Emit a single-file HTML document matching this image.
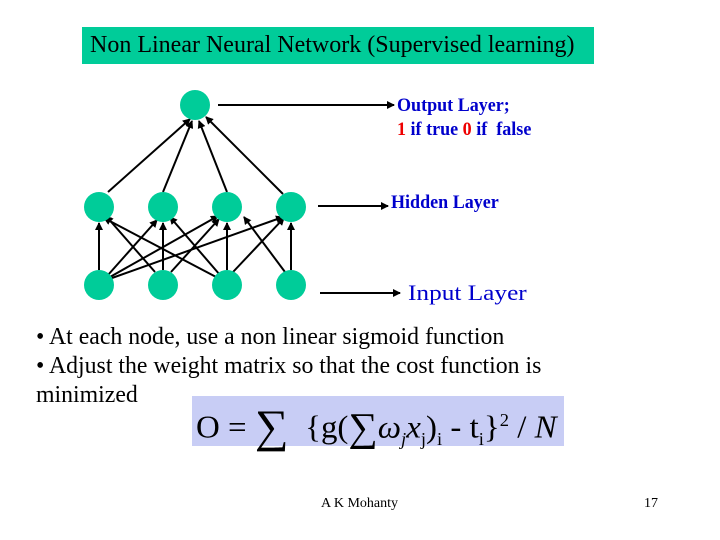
<!DOCTYPE html>
<html><head><style>
body{margin:0;width:720px;height:540px;background:#fff;position:relative;font-family:"Liberation Serif",serif;overflow:hidden}
.t{position:absolute;white-space:nowrap}
</style></head><body>
<div class="t" style="left:82px;top:27px;width:512px;height:37px;background:#00cc99"></div>
<div class="t" style="left:90px;top:32px;font-size:24px">Non Linear Neural Network (Supervised learning)</div>
<svg width="720" height="540" style="position:absolute;left:0;top:0">
<defs><marker id="a" markerWidth="8" markerHeight="8" refX="7" refY="4" orient="auto" markerUnits="userSpaceOnUse"><path d="M0,0 L8,4 L0,8 z" fill="#000"/></marker></defs>
<g stroke="#000" stroke-width="2" marker-end="url(#a)">
<line x1="108" y1="192" x2="190" y2="119"/>
<line x1="163" y1="192" x2="192" y2="121"/>
<line x1="227" y1="192" x2="199" y2="121"/>
<line x1="283" y1="194" x2="206" y2="117"/>
<line x1="99" y1="270" x2="99" y2="223"/>
<line x1="163" y1="270" x2="163" y2="223"/>
<line x1="227" y1="270" x2="227" y2="223"/>
<line x1="291" y1="270" x2="291" y2="223"/>
<line x1="108" y1="275" x2="157" y2="220"/>
<line x1="110" y1="277" x2="218" y2="216"/>
<line x1="112" y1="278" x2="283" y2="217"/>
<line x1="171" y1="272" x2="219" y2="219"/>
<line x1="155" y1="272" x2="106" y2="216"/>
<line x1="218" y1="278" x2="104" y2="218"/>
<line x1="220" y1="275" x2="170" y2="217"/>
<line x1="233" y1="272" x2="284" y2="218"/>
<line x1="285" y1="272" x2="244" y2="217"/>
<line x1="218" y1="105" x2="394" y2="105"/>
<line x1="318" y1="206" x2="388" y2="206"/>
<line x1="320" y1="293" x2="400" y2="293"/>
</g>
<g fill="#00cc99">
<circle cx="195" cy="105" r="15"/>
<circle cx="99" cy="207" r="15"/><circle cx="163" cy="207" r="15"/><circle cx="227" cy="207" r="15"/><circle cx="291" cy="207" r="15"/>
<circle cx="99" cy="285" r="15"/><circle cx="163" cy="285" r="15"/><circle cx="227" cy="285" r="15"/><circle cx="291" cy="285" r="15"/>
</g>
</svg>
<div class="t" style="left:397px;top:95px;font-size:19px;font-weight:bold;color:#0000cc;transform:scaleX(0.95);transform-origin:left">Output Layer;</div>
<div class="t" style="left:397px;top:119px;font-size:19px;font-weight:bold;color:#0000cc;transform:scaleX(0.95);transform-origin:left"><span style="color:#e00">1</span> if true <span style="color:#e00">0</span> if&nbsp; false</div>
<div class="t" style="left:391px;top:192px;font-size:19px;font-weight:bold;color:#0000cc;transform:scaleX(0.95);transform-origin:left">Hidden Layer</div>
<div class="t" style="left:408px;top:280px;font-size:22px;color:#0000cc;transform:scaleX(1.15);transform-origin:left">Input Layer</div>
<div class="t" style="left:36px;top:323px;font-size:23.8px;line-height:29px">• At each node, use a non linear sigmoid function<br>• Adjust the weight matrix so that the cost function is<br>minimized</div>
<div class="t" style="left:192px;top:396px;width:372px;height:50px;background:#c8cdf5"></div>
<div class="t" style="left:196px;top:398px;font-size:32px;line-height:44px;transform:scaleX(1.03);transform-origin:left">O = <span style="font-size:46px;vertical-align:-4px">∑</span>&nbsp; {g(<span style="font-size:40px;vertical-align:-3px">∑</span><i>ω</i><sub style="font-size:18px"><i>j</i></sub><i>x</i><sub style="font-size:18px">j</sub>)<sub style="font-size:18px">i</sub> - t<sub style="font-size:18px">i</sub>}<sup style="font-size:18px">2</sup> / <i>N</i></div>
<div class="t" style="left:321px;top:496px;font-size:14px">A K Mohanty</div>
<div class="t" style="left:644px;top:496px;font-size:14px">17</div>
</body></html>
